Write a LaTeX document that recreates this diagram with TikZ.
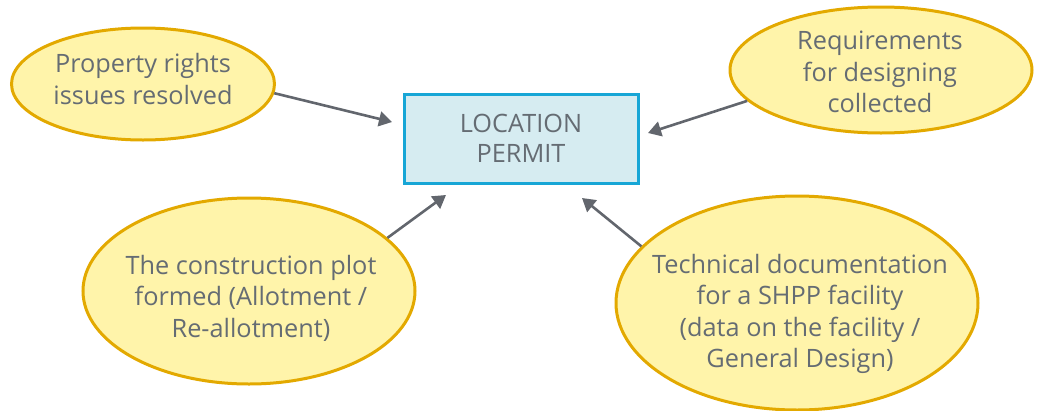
\documentclass[tikz,border=0pt]{standalone}
\usepackage{fontspec}
\setmainfont{Open Sans}
\usetikzlibrary{shapes.geometric,arrows.meta}
\definecolor{bubblefill}{HTML}{FFF4AA}
\definecolor{bubbleedge}{HTML}{E3A900}
\definecolor{permitfill}{HTML}{D6ECF1}
\definecolor{permitedge}{HTML}{17A6D6}
\definecolor{labelgray}{HTML}{656C73}
\definecolor{arrowgray}{HTML}{62666D}
\tikzset{
  bubble/.style={ellipse, draw=bubbleedge, fill=bubblefill, line width=3pt, inner sep=0pt},
  bubbletext/.style={align=center, text=labelgray, font=\fontsize{25.3}{31.5}\selectfont, inner sep=0pt},
  permit/.style={rectangle, draw=permitedge, fill=permitfill, line width=3pt,
    minimum width=234pt, minimum height=89pt, align=center, text=labelgray,
    font=\fontsize{25.3}{30}\selectfont},
  feed/.style={draw=arrowgray, line width=2.6pt, -{Triangle[length=13pt,width=15pt]}}
}
\begin{document}
\begin{tikzpicture}[x=1pt,y=-1pt]
\useasboundingbox (0,0) rectangle (1037,410);

% central permit box
\node[permit] (permit) at (521,138.5) {LOCATION\\PERMIT};

% surrounding prerequisites
\node[bubble, minimum width=263pt, minimum height=112pt] (e1) at (143,84) {};
\node[bubbletext] (t1) at (143,79) {Property rights\\issues resolved};

\node[bubble, minimum width=302pt, minimum height=126pt] (e2) at (881,70) {};
\node[bubbletext] (t2) at (880,72) {Requirements\\for designing\\collected};

\node[bubble, minimum width=332pt, minimum height=186pt] (e3) at (249,291) {};
\node[bubbletext] (t3) at (251,298) {The construction plot\\formed (Allotment /\\Re-allotment)};

\node[bubble, minimum width=362pt, minimum height=214pt] (e4) at (797,303) {};
\node[bubbletext] (t4) at (800,314) {Technical documentation\\for a SHPP facility\\ (data on the facility /\\General Design)};

% arrow tips next to the permit box
\coordinate (a1) at (392,122);
\coordinate (a2) at (648,133);
\coordinate (a3) at (446,195);
\coordinate (a4) at (582,198);

\draw[feed] (e1.-4) -- (a1);
\draw[feed] (e2.193.5) -- (a2);
\draw[feed] (e3.21.3) -- (a3);
\draw[feed] (e4.160.7) -- (a4);
\end{tikzpicture}
\end{document}
